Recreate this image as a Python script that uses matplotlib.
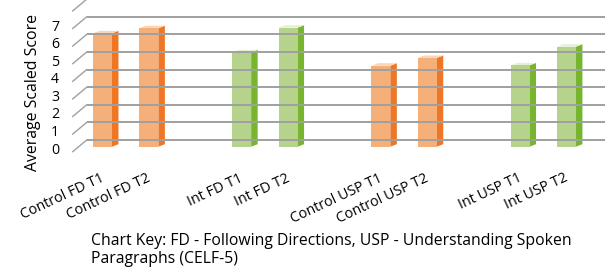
import matplotlib
matplotlib.use('Agg')
import matplotlib.pyplot as plt
from matplotlib.transforms import offset_copy
from matplotlib.patches import Polygon

plt.rcParams['font.family'] = ['Open Sans', 'DejaVu Sans']

categories = ['Control FD T1', 'Control FD T2', 'Int FD T1', 'Int FD T2',
              'Control USP T1', 'Control USP T2', 'Int USP T1', 'Int USP T2']
positions = [0, 1, 3, 4, 6, 7, 9, 10]
values = [6.44, 6.73, 5.36, 6.76, 4.60, 5.04, 4.62, 5.68]
groups = ['control', 'control', 'int', 'int', 'control', 'control', 'int', 'int']
yticks = [0, 1, 2, 3, 4, 5, 6, 7]
ylabel = 'Average Scaled Score'
key_lines = ['Chart Key: FD - Following Directions, USP - Understanding Spoken',
             'Paragraphs (CELF-5)']

front_col = {'control': '#F5B07A', 'int': '#B5D38A'}
side_col = {'control': '#EE7624', 'int': '#78B52E'}
top_col = {'control': '#FAD4B6', 'int': '#E3F0D3'}

W, H = 606, 267
fig = plt.figure(figsize=(W / 100, H / 100), dpi=100)


def px_ax(l, t, r, b):
    return fig.add_axes([l / W, 1 - b / H, (r - l) / W, (b - t) / H])


# front plane of the 3D box
ax = px_ax(72.7, 10.9, 591, 151.7)
xlim = (-0.642, 10.53)
ax.set_xlim(*xlim)
ax.set_ylim(0, 8)
ax.axis('off')
px_x = (591 - 72.7) / (xlim[1] - xlim[0])   # px per x unit
px_y = (151.7 - 10.9) / 8                   # px per y unit

# back wall gridlines and left-wall diagonals
wall_dx, wall_dy = 14, 11.7
back_t = offset_copy(ax.transData, fig=fig, x=wall_dx, y=wall_dy, units='dots')
grid_c = '#A0A0A0'
for v in range(0, 9):
    ax.plot(xlim, [v, v], color=grid_c, lw=1.4, transform=back_t, clip_on=False,
            solid_capstyle='butt')
    ax.plot([xlim[0], xlim[0] + wall_dx / px_x], [v, v + wall_dy / px_y],
            color=grid_c, lw=1.0, clip_on=False)

# bars (front face + side + top)
bar_t = offset_copy(ax.transData, fig=fig, x=0, y=5, units='dots')
w = 19 / px_x
ddx, ddy = 6.5 / px_x, 2.5 / px_y
for p, v, g in zip(positions, values, groups):
    side = Polygon([(p + w / 2, 0), (p + w / 2 + ddx, ddy), (p + w / 2 + ddx, v + ddy),
                    (p + w / 2, v)], closed=True, facecolor=side_col[g], edgecolor='none',
                   transform=bar_t, clip_on=False)
    top = Polygon([(p - w / 2, v), (p + w / 2, v), (p + w / 2 + ddx, v + ddy),
                   (p - w / 2 + ddx, v + ddy)], closed=True, facecolor=top_col[g],
                  edgecolor='none', transform=bar_t, clip_on=False)
    ax.add_patch(side)
    ax.add_patch(top)
ax.bar(positions, values, width=w, color=[front_col[g] for g in groups],
       transform=bar_t, clip_on=False)
ax.set_xlim(*xlim)
ax.set_ylim(0, 8)

# y tick labels on front wall
lab_t = offset_copy(ax.transData, fig=fig, x=-17.7, y=1.5, units='dots')
for v in yticks:
    ax.text(xlim[0], v, str(v), ha='center', va='center', fontsize=10.2,
            color='#000000', transform=lab_t)

fig.text(33 / W, 1 - 92.5 / H, ylabel, rotation=90, ha='center', va='center',
         fontsize=11.4)

# category labels
cat_t = offset_copy(ax.transData, fig=fig, x=-2.5, y=-19, units='dots')
for p, c in zip(positions, categories):
    ax.text(p, 0, c, rotation=25, ha='right', va='top', rotation_mode='anchor',
            fontsize=10.3, transform=cat_t)

fig.text(91 / W, 1 - 240.7 / H, key_lines[0], ha='left', va='center', fontsize=11.3)
fig.text(91 / W, 1 - 259.3 / H, key_lines[1], ha='left', va='center', fontsize=11.3)

fig.savefig('out.png', dpi=100)
